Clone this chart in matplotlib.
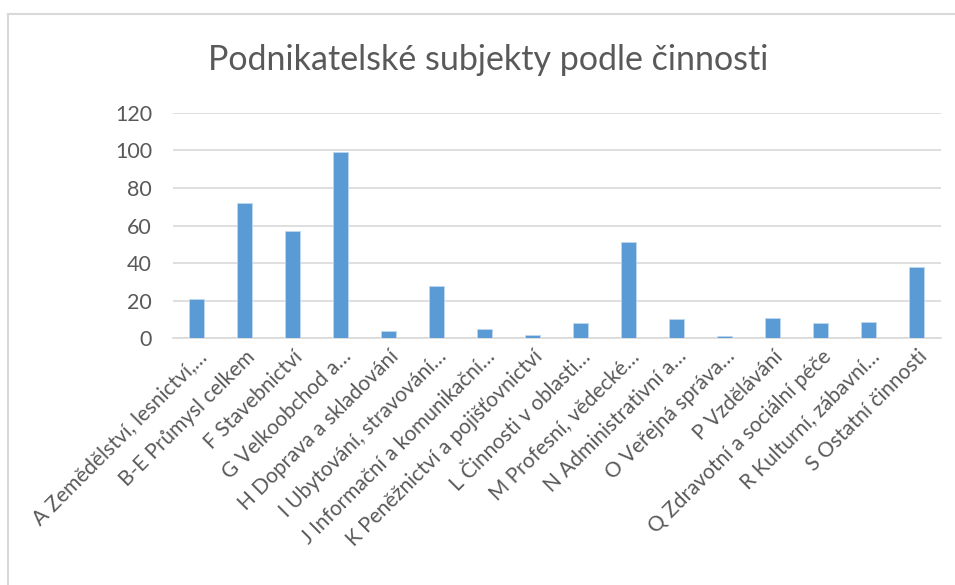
import matplotlib.pyplot as plt
from matplotlib.lines import Line2D

categories = [
    "A Zemědělství, lesnictví,…",
    "B-E Průmysl celkem",
    "F Stavebnictví",
    "G Velkoobchod a…",
    "H Doprava a skladování",
    "I Ubytování, stravování…",
    "J Informační a komunikační…",
    "K Peněžnictví a pojišťovnictví",
    "L Činnosti v oblasti…",
    "M Profesní, vědecké…",
    "N Administrativní a…",
    "O Veřejná správa…",
    "P Vzdělávání",
    "Q Zdravotní a sociální péče",
    "R Kulturní, zábavní…",
    "S Ostatní činnosti",
]
values = [21, 72, 57, 99, 4, 28, 5, 1.5, 8, 51, 10, 1, 10.5, 8, 8.5, 38]
yticks = [0, 20, 40, 60, 80, 100, 120]

plt.rcParams['font.family'] = ['Lato', 'DejaVu Sans']
grey = '#595959'

fig = plt.figure(figsize=(9.55, 5.85), dpi=100)
ax = fig.add_axes([0.181, 0.422, 0.804, 0.385])

x = range(len(categories))
ax.bar(x, values, width=0.31, color='#5B9BD5', edgecolor='#BDD7EE', linewidth=0.6, zorder=3)

ax.set_xlim(-0.5, len(categories) - 0.5)
ax.set_ylim(0, 120)
ax.set_yticks(yticks)
ax.set_yticklabels([str(t) for t in yticks], fontsize=15.5, color=grey)
ax.set_xticks(list(x))
ax.set_xticklabels(categories, rotation=45, ha='right', va='top', rotation_mode='anchor',
                   fontsize=15, color=grey)
ax.tick_params(axis='both', length=0)
ax.tick_params(axis='y', pad=15)
ax.tick_params(axis='x', pad=6)
ax.grid(axis='y', color='#D9D9D9', linewidth=1.2, zorder=0)
for s in ['top', 'right', 'left']:
    ax.spines[s].set_visible(False)
ax.spines['bottom'].set_color('#D9D9D9')
ax.spines['bottom'].set_linewidth(1.2)

fig.text(0.5115, 0.897, "Podnikatelské subjekty podle činnosti", ha='center', va='center',
         fontsize=24.5, color=grey)

# chart frame (left and top edges visible)
fig.add_artist(Line2D([8 / 955, 8 / 955], [0, 1 - 14 / 585], transform=fig.transFigure,
                      color='#D9D9D9', linewidth=1.5))
fig.add_artist(Line2D([8 / 955, 1], [1 - 14 / 585, 1 - 14 / 585], transform=fig.transFigure,
                      color='#D9D9D9', linewidth=1.5))

fig.savefig('out.png', dpi=100)
